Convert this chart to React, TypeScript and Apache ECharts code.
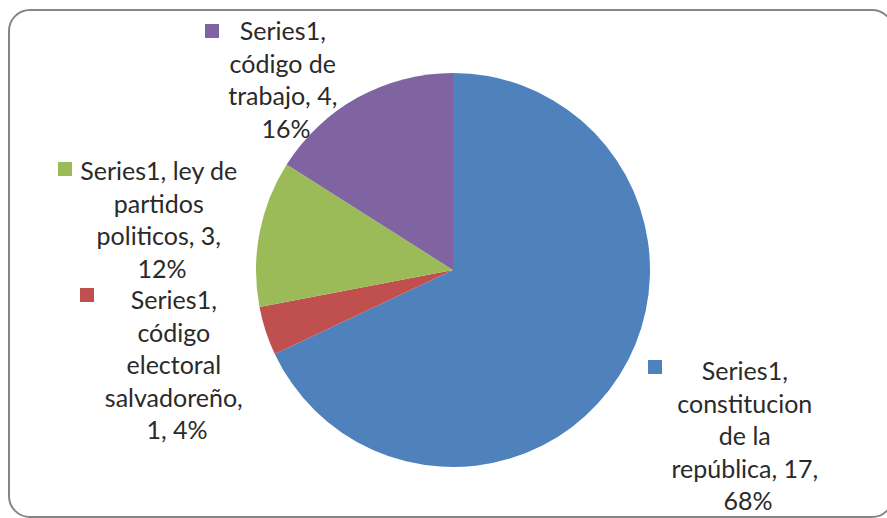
import React, { useEffect, useRef } from "react";
import * as echarts from "echarts";

const seriesName = "Series1";
const categories = [
  "constitucion de la república",
  "código electoral salvadoreño",
  "ley de partidos politicos",
  "código de trabajo",
];
const values = [17, 1, 3, 4];
const colors = ["#4F81BD", "#C0504D", "#9BBB59", "#8064A2"];

// layout (not data): label block centres, wrap widths, legend-key corners
const labelCenter = [
  [748, 435],
  [177, 364],
  [162, 219],
  [286, 79],
];
const labelWidth = [165, 160, 178, 128];
const keyCorner = [
  [648, 360],
  [80, 288],
  [58, 162],
  [205, 24],
];

export default function App() {
  const ref = useRef<HTMLDivElement>(null);
  useEffect(() => {
    if (!ref.current) return;
    const chart = echarts.init(ref.current, undefined, { renderer: "svg" });
    const data = categories.map((c, i) => ({
      name: c,
      value: values[i],
      itemStyle: { color: colors[i] },
      label: { width: labelWidth[i] },
    }));
    const keyData = categories.map((c, i) => ({
      name: c,
      value: values[i],
      label: {
        rich: { sq: { width: 14, height: 14, backgroundColor: colors[i] } },
      },
    }));
    chart.setOption({
      animation: false,
      backgroundColor: "#ffffff",
      graphic: [
        {
          type: "rect",
          shape: { x: 9, y: 10, width: 884, height: 507, r: 21 },
          style: { fill: "none", stroke: "#868686", lineWidth: 2 },
          z: -1,
        },
      ],
      series: [
        {
          name: seriesName,
          type: "pie",
          center: [453, 270],
          radius: 197,
          startAngle: 90,
          clockwise: true,
          avoidLabelOverlap: false,
          data,
          itemStyle: { borderWidth: 0 },
          labelLine: { show: false },
          label: {
            show: true,
            position: "outside",
            fontFamily: "Lato",
            fontSize: 25,
            lineHeight: 32.5,
            color: "#2a2a2a",
            align: "center",
            overflow: "break",
            formatter: (p: any) =>
              `${p.seriesName}, ${p.name}, ${p.value}, ${Math.round(p.percent)}%`,
          },
          labelLayout: (p: any) => ({
            x: labelCenter[p.dataIndex][0],
            y: labelCenter[p.dataIndex][1],
            align: "center",
            verticalAlign: "middle",
          }),
          emphasis: { disabled: true },
        },
        {
          name: seriesName + "-keys",
          type: "pie",
          center: [453, 270],
          radius: 197,
          startAngle: 90,
          clockwise: true,
          silent: true,
          avoidLabelOverlap: false,
          data: keyData,
          itemStyle: { color: "rgba(0,0,0,0)" },
          labelLine: { show: false },
          label: {
            show: true,
            position: "outside",
            formatter: "{sq|}",
          },
          labelLayout: (p: any) => ({
            x: keyCorner[p.dataIndex][0],
            y: keyCorner[p.dataIndex][1],
            align: "left",
            verticalAlign: "top",
          }),
          emphasis: { disabled: true },
        },
      ],
    });
    return () => chart.dispose();
  }, []);
  return (
    <div
      ref={ref}
      style={{ position: "absolute", left: 0, top: 0, width: 887, height: 518 }}
    />
  );
}
